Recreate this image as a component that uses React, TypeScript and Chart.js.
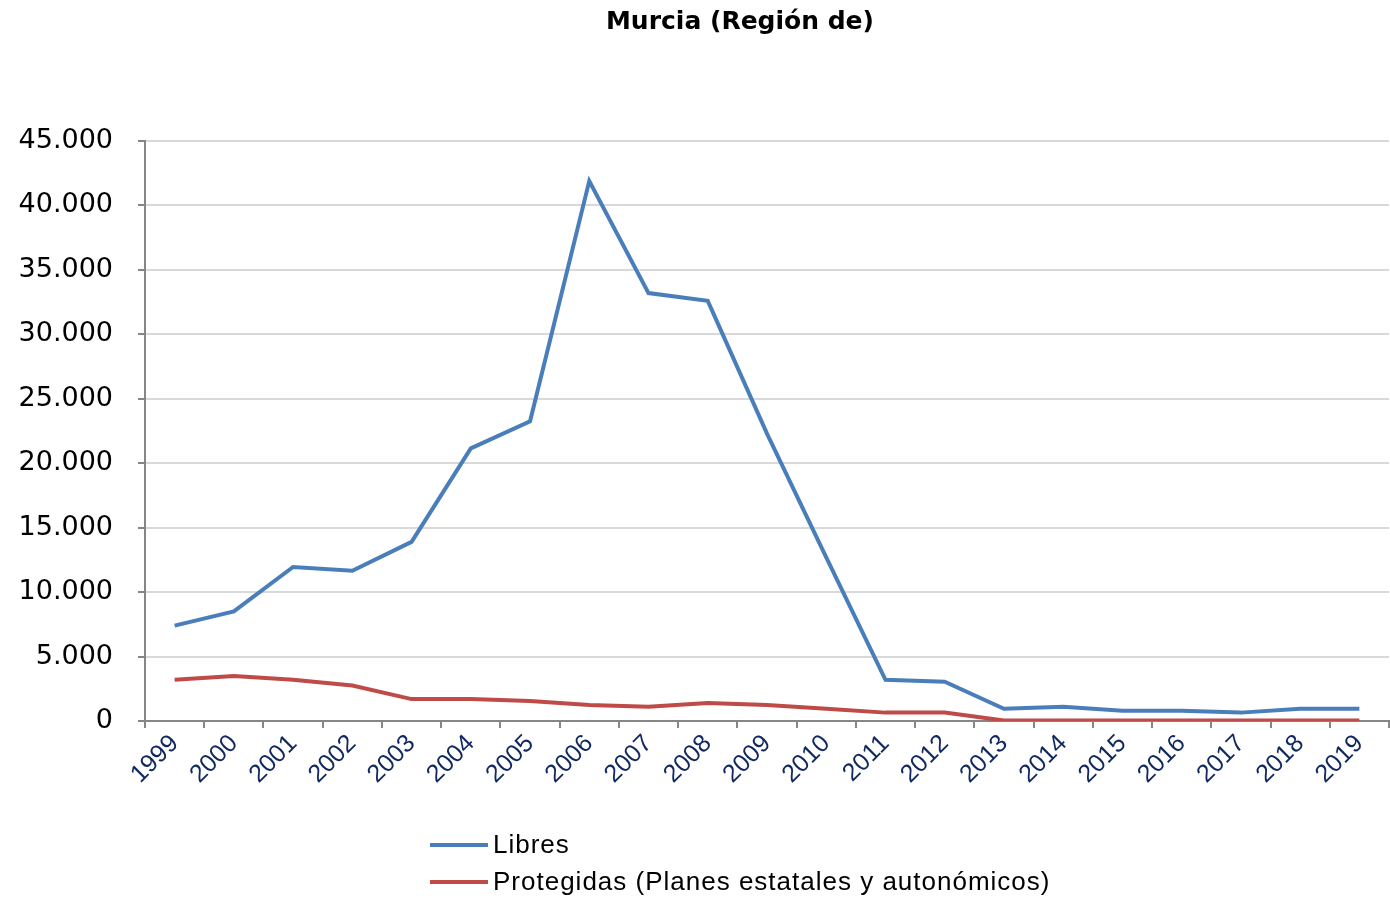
import React, { useEffect, useRef } from "react";
import { Chart, registerables } from "chart.js";

Chart.register(...registerables);

const titleText = "Murcia (Región de)";
const categories = [
  "1999", "2000", "2001", "2002", "2003", "2004", "2005", "2006", "2007", "2008", "2009",
  "2010", "2011", "2012", "2013", "2014", "2015", "2016", "2017", "2018", "2019",
];
const libresLabel = "Libres";
const libres = [
  7400, 8500, 11950, 11650, 13900, 21150, 23250, 41900, 33200, 32600, 22300,
  12700, 3200, 3050, 950, 1100, 800, 800, 650, 950, 950,
];
const protegidasLabel = "Protegidas (Planes estatales y autonómicos)";
const protegidas = [
  3200, 3500, 3200, 2750, 1700, 1700, 1550, 1250, 1100, 1400, 1250,
  950, 650, 650, 40, 40, 40, 40, 40, 40, 40,
];
const yMax = 45000;
const yStep = 5000;

const blue = "#4A7EBB";
const red = "#BE4B48";

const fmt = (v: number) => String(v).replace(/\B(?=(\d{3})+(?!\d))/g, ".");

export default function App() {
  const ref = useRef<HTMLCanvasElement | null>(null);

  useEffect(() => {
    document.body.style.margin = "0";
    const canvas = ref.current;
    if (!canvas) return;
    const chart = new Chart(canvas, {
      type: "line",
      data: {
        labels: categories,
        datasets: [
          {
            label: libresLabel,
            data: libres,
            borderColor: blue,
            backgroundColor: blue,
            borderWidth: 4,
            pointRadius: 0,
            tension: 0,
          },
          {
            label: protegidasLabel,
            data: protegidas,
            borderColor: red,
            backgroundColor: red,
            borderWidth: 4,
            pointRadius: 0,
            tension: 0,
          },
        ],
      },
      options: {
        animation: false,
        responsive: false,
        maintainAspectRatio: false,
        layout: { padding: { left: 0, right: 1, top: 141, bottom: 107 } },
        plugins: {
          legend: { display: false },
          tooltip: { enabled: false },
          title: { display: false },
        },
        scales: {
          x: {
            type: "category",
            offset: true,
            grid: {
              offset: true,
              drawOnChartArea: false,
              drawTicks: true,
              tickLength: 7,
              color: "#868686",
              lineWidth: 2,
            },
            border: { color: "#868686", width: 2 },
            ticks: {
              autoSkip: false,
              maxRotation: 45,
              minRotation: 45,
              padding: 1,
              color: "#10285f",
              font: { family: "Liberation Sans", size: 25 },
            },
            afterFit: (scale: any) => {
              scale.height = 70;
            },
          },
          y: {
            min: 0,
            max: yMax,
            grid: {
              color: "#d9d9d9",
              lineWidth: 2,
              tickLength: 7,
              tickColor: "#868686",
            },
            border: { color: "#868686", width: 2 },
            ticks: {
              stepSize: yStep,
              padding: 25,
              color: "#000",
              font: { family: "DejaVu Sans", size: 27 },
              callback: (v: any) => fmt(Number(v)),
            },
            afterFit: (scale: any) => {
              scale.width = 145;
            },
          },
        },
      },
    });
    return () => chart.destroy();
  }, []);

  const legendItem = (color: string, text: string) => (
    <div style={{ display: "flex", alignItems: "center", height: 37 }}>
      <div style={{ width: 58, height: 4, background: color, marginRight: 5 }} />
      <span>{text}</span>
    </div>
  );

  return (
    <div style={{ position: "relative", width: 1390, height: 898 }}>
      <canvas ref={ref} width={1390} height={898} style={{ display: "block" }} />
      <div
        style={{
          position: "absolute",
          left: 440,
          width: 600,
          top: 6,
          textAlign: "center",
          fontFamily: "DejaVu Sans",
          fontWeight: "bold",
          fontSize: 25,
          lineHeight: "30px",
          color: "#000",
          whiteSpace: "nowrap",
        }}
      >
        {titleText}
      </div>
      <div
        style={{
          position: "absolute",
          left: 430,
          top: 826,
          fontFamily: "Liberation Sans",
          fontSize: 26,
          letterSpacing: 1,
          color: "#000",
          whiteSpace: "nowrap",
        }}
      >
        {legendItem(blue, libresLabel)}
        {legendItem(red, protegidasLabel)}
      </div>
    </div>
  );
}
